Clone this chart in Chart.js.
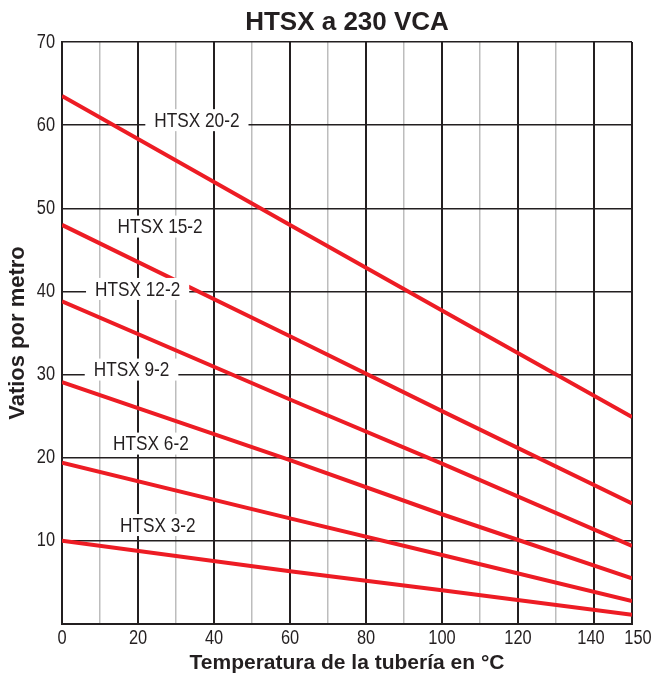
<!DOCTYPE html>
<html>
<head>
<meta charset="utf-8">
<script src="https://cdn.jsdelivr.net/npm/chart.js@4"></script>
<style>
  body { margin: 0; background: #fff; }
  #wrap { width: 653px; height: 675px; }
</style>
</head>
<body>
<div id="wrap"><canvas id="htsxChart"></canvas></div>
<script>
const temps = [0, 60, 100, 150];
const seriesNames = ['HTSX 20-2', 'HTSX 15-2', 'HTSX 12-2', 'HTSX 9-2', 'HTSX 6-2', 'HTSX 3-2'];
const htsx20 = [63.5, 48.0, 37.7, 24.9];
const htsx15 = [48.0, 34.6, 25.6, 14.5];
const htsx12 = [38.8, 27.0, 19.3, 9.4];
const htsx9 = [29.1, 19.7, 13.2, 5.5];
const htsx6 = [19.4, 12.7, 8.3, 2.75];
const htsx3 = [10.0, 6.35, 4.05, 1.1];
const xTickLabels = [0, 20, 40, 60, 80, 100, 120, 140, 150];
const yTickLabels = [10, 20, 30, 40, 50, 60, 70];

// where each curve's name sits (axis units)
const labelAt = [[35.5, 60.6], [25.8, 47.8], [19.9, 40.3], [18.3, 30.6], [23.4, 21.7], [25.2, 11.9]];

const INK = '#231f20';
const RED = '#ed1c24';
const FONT = '"Liberation Sans", Arial, sans-serif';
const SQUEEZE = 0.82; // no narrow face installed, so squash the regular one

const allSeries = [htsx20, htsx15, htsx12, htsx9, htsx6, htsx3];

function narrowText(ctx, txt, px, py) {
  ctx.save();
  ctx.translate(px, py);
  ctx.scale(SQUEEZE, 1);
  ctx.fillText(txt, 0, 0);
  ctx.restore();
}

// title centred over the plot, condensed tick text, white-boxed curve names
const overlay = {
  id: 'overlay',
  afterDatasetsDraw(chart) {
    const { ctx, chartArea, scales: { x, y } } = chart;
    ctx.save();
    ctx.textBaseline = 'middle';
    ctx.fillStyle = INK;
    ctx.textAlign = 'center';
    ctx.font = 'bold 26px ' + FONT;
    ctx.fillText('HTSX a 230 VCA', (chartArea.left + chartArea.right) / 2, 23);

    ctx.font = '20px ' + FONT;
    xTickLabels.forEach(v => {
      // last label is pushed right a little so it clears "140"
      const nudge = v === 150 ? 6 : (v === 140 ? -3 : 0);
      narrowText(ctx, String(v), x.getPixelForValue(v) + nudge, chartArea.bottom + 14);
    });
    ctx.textAlign = 'right';
    yTickLabels.forEach(v => narrowText(ctx, String(v), chartArea.left - 7, y.getPixelForValue(v)));

    ctx.textAlign = 'center';
    ctx.font = '21px ' + FONT;
    seriesNames.forEach((name, i) => {
      const px = x.getPixelForValue(labelAt[i][0]);
      const py = y.getPixelForValue(labelAt[i][1]);
      const w = ctx.measureText(name).width * SQUEEZE + 18;
      ctx.fillStyle = '#fff';
      ctx.fillRect(px - w / 2, py - 11, w, 22);
      ctx.fillStyle = INK;
      narrowText(ctx, name, px, py + 1);
    });
    ctx.restore();
  }
};

let htsxChart = new Chart(document.getElementById('htsxChart'), {
  type: 'line',
  data: {
    datasets: allSeries.map((vals, i) => ({
      label: seriesNames[i],
      data: vals.map((v, j) => ({ x: temps[j], y: v })),
      borderColor: RED,
      borderWidth: 4,
      pointRadius: 0,
      fill: false
    }))
  },
  options: {
    responsive: true,
    maintainAspectRatio: false,
    animation: false,
    layout: { padding: { left: 0, right: 21, top: 42, bottom: 0 } },
    plugins: {
      legend: { display: false },
      tooltip: { enabled: false },
      title: { display: false }
    },
    scales: {
      x: {
        type: 'linear',
        min: 0,
        max: 150,
        border: { color: INK, width: 2 },
        grid: {
          drawTicks: false,
          color: c => (c.tick.value % 20 === 0 || c.tick.value === 150) ? INK : '#bdbdbd',
          lineWidth: c => (c.tick.value % 20 === 0 || c.tick.value === 150) ? 2 : 1.5
        },
        ticks: {
          stepSize: 10,
          autoSkip: false,
          maxRotation: 0,
          padding: 5,
          color: 'rgba(0,0,0,0)',
          font: { family: FONT, size: 17, lineHeight: 1 },
          callback: v => xTickLabels.includes(v) ? v : ''
        },
        title: {
          display: true,
          text: 'Temperatura de la tubería en °C',
          color: INK,
          font: { family: FONT, size: 21, weight: 'bold', lineHeight: 1 },
          padding: { top: 2, bottom: 1 }
        }
      },
      y: {
        min: 0,
        max: 70,
        border: { color: INK, width: 2 },
        grid: { drawTicks: false, color: INK, lineWidth: 1.5 },
        ticks: {
          stepSize: 10,
          padding: 7,
          color: 'rgba(0,0,0,0)',
          font: { family: FONT, size: 17, lineHeight: 1 },
          callback: v => yTickLabels.includes(v) ? v : ''
        },
        title: {
          display: true,
          text: 'Vatios por metro',
          color: INK,
          font: { family: FONT, size: 22, weight: 'bold', lineHeight: 1 },
          padding: { top: 7, bottom: 0 }
        },
        afterFit: s => { s.width = 62; }
      }
    }
  },
  plugins: [overlay]
});
</script>
</body>
</html>
